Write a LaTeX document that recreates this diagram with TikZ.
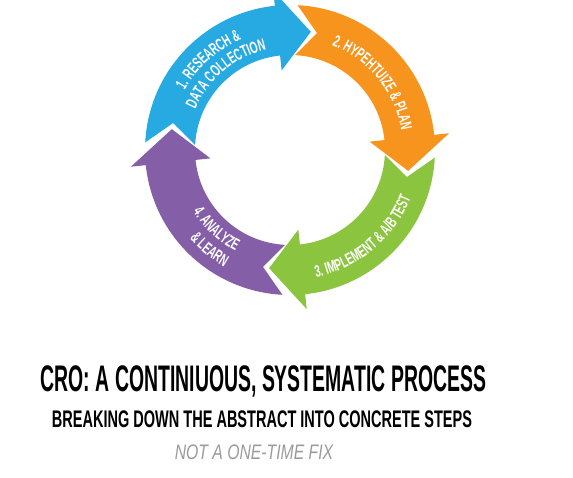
\documentclass[tikz,border=0pt]{standalone}
\usepackage{fontspec}
\usepackage{tikz}
\usetikzlibrary{decorations.text,positioning}

\newfontfamily\titlefont[FakeStretch=0.525]{Liberation Sans}
\newfontfamily\subfont[FakeStretch=0.605]{Liberation Sans}
\newfontfamily\notefont[FakeStretch=0.75]{Liberation Sans}
\newfontfamily\arcfont[FakeStretch=0.61]{Liberation Sans}
\newcommand\arclabel{\arcfont\bfseries\fontsize{16.5}{16.5}\selectfont}

\definecolor{cycleblue}{RGB}{39,170,225}
\definecolor{cycleorange}{RGB}{247,148,30}
\definecolor{cyclegreen}{RGB}{139,197,63}
\definecolor{cyclepurple}{RGB}{132,95,167}
\definecolor{notegrey}{RGB}{155,155,155}

\begin{document}
\begin{tikzpicture}[x=1pt,y=1pt]
    % ring centre at the origin, page is 573 x 478
    \tikzstyle{arc-label}=[decorate,decoration={text along path,text align=center,text color=white}]
    \tikzstyle{caption}=[anchor=base,inner sep=0pt]

    \useasboundingbox (-290,-328) rectangle (283,150);
    \fill[white] (-290,-328) rectangle (283,150);

    % the four curved arrows, clockwise; each tail is notched round the tip before it
    \foreach \tail/\tip/\col in {177/80/cycleblue,87/-10/cycleorange,-3/-100/cyclegreen,267/170/cyclepurple}
      \fill[\col] (\tail:145) arc[start angle=\tail,end angle=\tip+16,radius=145]
        -- (\tip+16:160) -- (\tip:120) -- (\tip+16:80) -- (\tip+16:95)
        arc[start angle=\tip+16,end angle=\tail,radius=95] -- (\tail-10:120) -- cycle;

    \path[arc-label,decoration={text={|\arclabel|1. RESEARCH {\&}}}]
      (175:121) arc[start angle=175,end angle=89,radius=121];
    \path[arc-label,decoration={text={|\arclabel|DATA COLLECTION}}]
      (175:103) arc[start angle=175,end angle=85,radius=103];
    \path[arc-label,decoration={text={|\arclabel|2. HYPEHTUIZE {\&} PLAN}}]
      (100:113) arc[start angle=100,end angle=-22,radius=113];
    \path[arc-label,decoration={text={|\arclabel|3. IMPLEMENT {\&} A/B TEST}}]
      (-110:130) arc[start angle=-110,end angle=10,radius=130];
    \path[arc-label,decoration={text={|\arclabel|4. ANALYZE}}]
      (180:115) arc[start angle=180,end angle=274,radius=115];
    \path[arc-label,decoration={text={|\arclabel|{\&} LEARN}}]
      (190:134) arc[start angle=190,end angle=272,radius=134];

    \node[caption,font=\titlefont\bfseries\fontsize{37}{40}\selectfont] (title) at (-26.5,-242)
      {CRO: A CONTINIUOUS, SYSTEMATIC PROCESS};
    \node[caption,font=\subfont\bfseries\fontsize{24}{28}\selectfont] (subtitle) at (-28,-278)
      {BREAKING DOWN THE ABSTRACT INTO CONCRETE STEPS};
    \node[caption,font=\notefont\itshape\fontsize{21}{24}\selectfont,text=notegrey] (note) at (-36,-310)
      {NOT A ONE-TIME FIX};
\end{tikzpicture}
\end{document}
